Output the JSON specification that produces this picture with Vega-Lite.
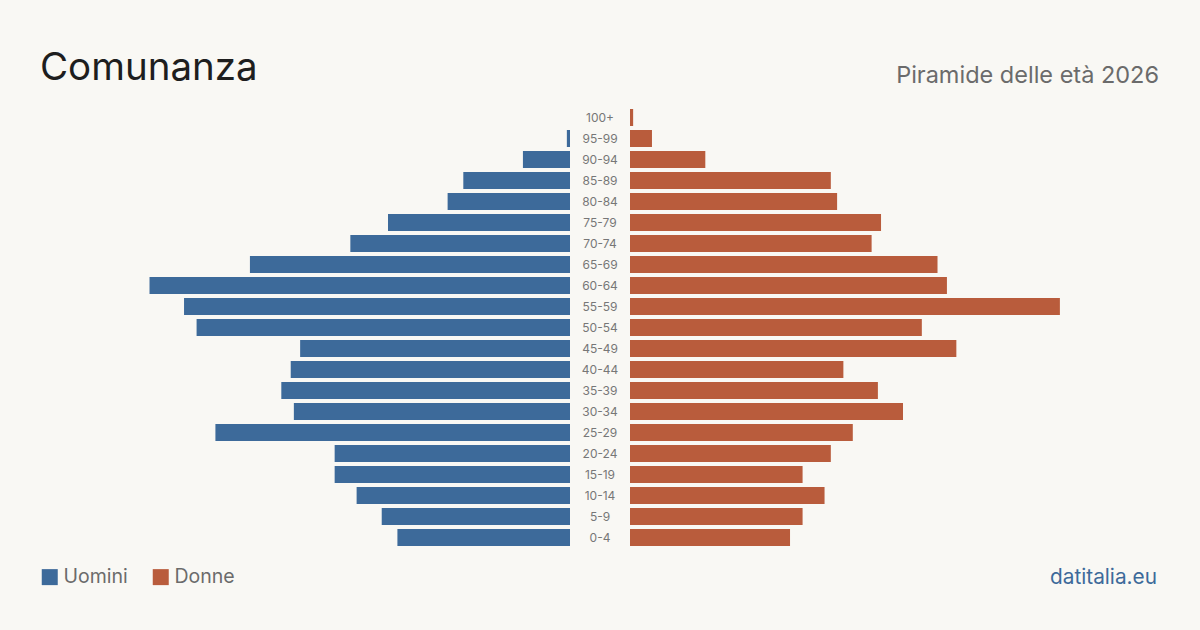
{
  "$schema": "https://vega.github.io/schema/vega-lite/v6.json",
  "background": "#f9f8f4",
  "padding": {"left": 40, "top": 48, "right": 41, "bottom": 50},
  "autosize": {"type": "pad"},
  "bounds": "flush",
  "spacing": 0,
  "config": {
    "view": {"stroke": null},
    "font": "Inter"
  },
  "datasets": {
    "pop": [
      {"age": "100+", "sex": "Uomini", "value": 0},
      {"age": "95-99", "sex": "Uomini", "value": 1},
      {"age": "90-94", "sex": "Uomini", "value": 15},
      {"age": "85-89", "sex": "Uomini", "value": 34},
      {"age": "80-84", "sex": "Uomini", "value": 39},
      {"age": "75-79", "sex": "Uomini", "value": 58},
      {"age": "70-74", "sex": "Uomini", "value": 70},
      {"age": "65-69", "sex": "Uomini", "value": 102},
      {"age": "60-64", "sex": "Uomini", "value": 134},
      {"age": "55-59", "sex": "Uomini", "value": 123},
      {"age": "50-54", "sex": "Uomini", "value": 119},
      {"age": "45-49", "sex": "Uomini", "value": 86},
      {"age": "40-44", "sex": "Uomini", "value": 89},
      {"age": "35-39", "sex": "Uomini", "value": 92},
      {"age": "30-34", "sex": "Uomini", "value": 88},
      {"age": "25-29", "sex": "Uomini", "value": 113},
      {"age": "20-24", "sex": "Uomini", "value": 75},
      {"age": "15-19", "sex": "Uomini", "value": 75},
      {"age": "10-14", "sex": "Uomini", "value": 68},
      {"age": "5-9", "sex": "Uomini", "value": 60},
      {"age": "0-4", "sex": "Uomini", "value": 55},
      {"age": "100+", "sex": "Donne", "value": 1},
      {"age": "95-99", "sex": "Donne", "value": 7},
      {"age": "90-94", "sex": "Donne", "value": 24},
      {"age": "85-89", "sex": "Donne", "value": 64},
      {"age": "80-84", "sex": "Donne", "value": 66},
      {"age": "75-79", "sex": "Donne", "value": 80},
      {"age": "70-74", "sex": "Donne", "value": 77},
      {"age": "65-69", "sex": "Donne", "value": 98},
      {"age": "60-64", "sex": "Donne", "value": 101},
      {"age": "55-59", "sex": "Donne", "value": 137},
      {"age": "50-54", "sex": "Donne", "value": 93},
      {"age": "45-49", "sex": "Donne", "value": 104},
      {"age": "40-44", "sex": "Donne", "value": 68},
      {"age": "35-39", "sex": "Donne", "value": 79},
      {"age": "30-34", "sex": "Donne", "value": 87},
      {"age": "25-29", "sex": "Donne", "value": 71},
      {"age": "20-24", "sex": "Donne", "value": 64},
      {"age": "15-19", "sex": "Donne", "value": 55},
      {"age": "10-14", "sex": "Donne", "value": 62},
      {"age": "5-9", "sex": "Donne", "value": 55},
      {"age": "0-4", "sex": "Donne", "value": 51}
    ]
  },
  "data": {"name": "pop"},
  "hconcat": [
    {
      "width": 455,
      "height": 441,
      "title": {
        "text": "Comunanza",
        "anchor": "start",
        "dx": -75,
        "offset": -11,
        "baseline": "alphabetic",
        "fontSize": 38.5,
        "fontWeight": "normal",
        "color": "#1e1e1e"
      },
      "transform": [{"filter": "datum.sex === 'Uomini'"}],
      "mark": {"type": "bar"},
      "encoding": {
        "y": {
          "field": "age",
          "type": "ordinal",
          "sort": ["100+", "95-99", "90-94", "85-89", "80-84", "75-79", "70-74", "65-69", "60-64", "55-59", "50-54", "45-49", "40-44", "35-39", "30-34", "25-29", "20-24", "15-19", "10-14", "5-9", "0-4"],
          "scale": {"paddingInner": 0.19, "paddingOuter": 0.095},
          "axis": null
        },
        "x": {
          "field": "value",
          "type": "quantitative",
          "scale": {"domain": [0, 145], "reverse": true},
          "axis": null
        },
        "color": {
          "field": "sex",
          "type": "nominal",
          "scale": {"domain": ["Uomini", "Donne"], "range": ["#3d6a9a", "#b95c3c"]},
          "legend": {
            "title": null,
            "orient": "none",
            "direction": "horizontal",
            "legendX": -75,
            "legendY": 460,
            "symbolType": "square",
            "symbolSize": 256,
            "symbolStrokeWidth": 0,
            "symbolOpacity": 1,
            "labelFontSize": 19.5,
            "labelColor": "#6b6b6b",
            "labelOffset": 4,
            "columnPadding": 23
          }
        }
      }
    },
    {
      "width": 60,
      "height": 441,
      "title": {
        "text": "Piramide delle età 2026",
        "anchor": "end",
        "dx": 529,
        "offset": 1,
        "baseline": "alphabetic",
        "fontSize": 23.5,
        "fontWeight": "normal",
        "color": "#6b6b6b"
      },
      "transform": [{"filter": "datum.sex === 'Uomini'"}],
      "mark": {"type": "text", "fontSize": 12, "color": "#777777"},
      "encoding": {
        "y": {
          "field": "age",
          "type": "ordinal",
          "sort": ["100+", "95-99", "90-94", "85-89", "80-84", "75-79", "70-74", "65-69", "60-64", "55-59", "50-54", "45-49", "40-44", "35-39", "30-34", "25-29", "20-24", "15-19", "10-14", "5-9", "0-4"],
          "scale": {"paddingInner": 0.19, "paddingOuter": 0.095},
          "axis": null
        },
        "text": {"field": "age", "type": "nominal"}
      }
    },
    {
      "width": 455,
      "height": 441,
      "title": {
        "text": "datitalia.eu",
        "orient": "bottom",
        "anchor": "end",
        "dx": 72,
        "offset": 36,
        "baseline": "alphabetic",
        "fontSize": 20.8,
        "fontWeight": "normal",
        "color": "#3d6a9a"
      },
      "transform": [{"filter": "datum.sex === 'Donne'"}],
      "mark": {"type": "bar"},
      "encoding": {
        "y": {
          "field": "age",
          "type": "ordinal",
          "sort": ["100+", "95-99", "90-94", "85-89", "80-84", "75-79", "70-74", "65-69", "60-64", "55-59", "50-54", "45-49", "40-44", "35-39", "30-34", "25-29", "20-24", "15-19", "10-14", "5-9", "0-4"],
          "scale": {"paddingInner": 0.19, "paddingOuter": 0.095},
          "axis": null
        },
        "x": {
          "field": "value",
          "type": "quantitative",
          "scale": {"domain": [0, 145]},
          "axis": null
        },
        "color": {
          "field": "sex",
          "type": "nominal",
          "scale": {"domain": ["Uomini", "Donne"], "range": ["#3d6a9a", "#b95c3c"]}
        }
      }
    }
  ]
}
